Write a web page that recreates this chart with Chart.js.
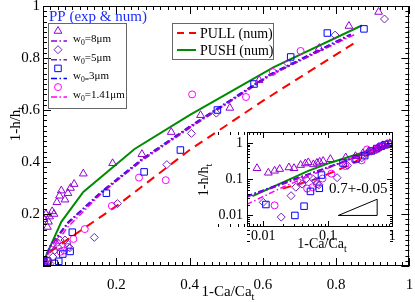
<!DOCTYPE html>
<html>
<head>
<meta charset="utf-8">
<script src="https://cdn.jsdelivr.net/npm/chart.js@4/dist/chart.umd.min.js"></script>
<style>
  html, body { margin: 0; padding: 0; background: #fff; }
  #wrap { position: relative; width: 415px; height: 302px; }
  #main { position: absolute; left: 0; top: 0; }
  #inset { position: absolute; left: 190px; top: 120px; }
</style>
</head>
<body>
<div id="wrap">
  <canvas id="main" width="415" height="302"></canvas>
  <canvas id="inset" width="215" height="140"></canvas>
</div>
<script>
// experimental points, [1-Ca/Ca_t, 1-h/h_t]
const triW8 = [[0.003,0.18],[0.008,0.2],[0.012,0.15],[0.015,0.17],[0.018,0.19],[0.025,0.21],[0.03,0.2],
  [0.038,0.245],[0.045,0.27],[0.05,0.29],[0.06,0.255],[0.068,0.28],[0.075,0.3],[0.085,0.315],[0.11,0.355],
  [0.19,0.395],[0.27,0.43],[0.35,0.515],[0.43,0.58],[0.51,0.608],[0.59,0.715],[0.754,0.838],[0.835,0.923],[0.916,0.977]];
const diaW5 = [[0.01,0.023],[0.019,0.009],[0.027,0.035],[0.032,0.06],[0.04,0.073],[0.046,0.1],[0.06,0.1],
  [0.065,0.088],[0.073,0.07],[0.14,0.11],[0.203,0.24],[0.338,0.39],[0.405,0.51],[0.473,0.588],[0.668,0.78],
  [0.797,0.888],[0.932,0.95]];
const sqW3 = [[0.002,0.015],[0.011,0.02],[0.031,0.01],[0.043,0.018],[0.054,0.046],[0.074,0.056],[0.08,0.13],
  [0.173,0.28],[0.276,0.362],[0.375,0.446],[0.476,0.6],[0.576,0.7],[0.676,0.804],[0.776,0.896],[0.876,0.912]];
const cirW141 = [[0.005,0.015],[0.015,0.019],[0.038,0.09],[0.048,0.055],[0.058,0.06],[0.068,0.073],[0.083,0.104],
  [0.114,0.142],[0.188,0.231],[0.262,0.34],[0.335,0.33],[0.407,0.66],[0.554,0.65],[0.627,0.746],[0.703,0.827]];

// numerical curves
const numW8 = [[0,0],[0.0055,0.033],[0.02,0.075],[0.068,0.165],[0.16,0.285],[0.27,0.41],[0.4,0.535],[0.62,0.735],[0.84,0.89]];
const numW5 = [[0,0],[0.0055,0.032],[0.02,0.072],[0.068,0.163],[0.16,0.282],[0.27,0.405],[0.4,0.53],[0.62,0.732],[0.84,0.887]];
const numW3 = [[0,0],[0.0055,0.034],[0.02,0.078],[0.068,0.168],[0.16,0.287],[0.27,0.412],[0.4,0.537],[0.62,0.738],[0.84,0.892]];
const numW141 = [[0,0],[0.0055,0.02],[0.02,0.06],[0.068,0.15],[0.16,0.28],[0.27,0.408],[0.4,0.533],[0.62,0.735],[0.85,0.89]];
const pull = [[0,0],[0.02,0.055],[0.065,0.1],[0.2,0.23],[0.4,0.446],[0.6,0.635],[0.85,0.858]];
const push = [[0,0],[0.0068,0.034],[0.05,0.17],[0.11,0.285],[0.25,0.45],[0.4,0.58],[0.63,0.765],[0.87,0.925]];

// slope mark in the inset
const slopeTri = [[0.146,0.01],[0.585,0.01],[0.585,0.028],[0.146,0.01]];
const slopeText = '0.7+-0.05';

const mainTicks = [0, 0.2, 0.4, 0.6, 0.8, 1];
const mainTickLabels = ['', '0.2', '0.4', '0.6', '0.8', '1'];
const insetTicks = [0.01, 0.1, 1];
const insetTickLabels = ['0.01', '0.1', '1'];

const VIOLET = '#9400d3', INDIGO = '#7221bc', BLUE = '#0000ff', MAGENTA = '#ff00ff';
const RED = '#ff0000', GREEN = '#008b00';
const SERIF = "'Liberation Serif', 'DejaVu Serif', serif";
const DASHDOT = [6, 2.5, 1.5, 2.5];

Chart.defaults.font.family = SERIF;
Chart.defaults.color = '#000';

const toXY = arr => arr.map(([x, y]) => ({ x, y }));

function pts(arr, style, r, color) {
  return { data: toXY(arr), pointStyle: style, pointRadius: r, pointBorderWidth: 1,
    pointBorderColor: color, pointBackgroundColor: 'rgba(0,0,0,0)', showLine: false };
}
function line(arr, color, width, dash) {
  return { data: toXY(arr), showLine: true, borderColor: color, borderWidth: width,
    borderDash: dash, pointRadius: 0, tension: 0, fill: false };
}

function buildSets(logScale) {
  const f = logScale ? a => a.filter(([x, y]) => x > 0 && y > 0) : a => a;
  return [
    pts(f(triW8), 'triangle', 4.5, VIOLET),
    pts(f(diaW5), 'rectRot', 4, INDIGO),
    pts(f(sqW3), 'rect', 4.6, BLUE),
    pts(f(cirW141), 'circle', 3.5, MAGENTA),
    line(f(numW8), VIOLET, 1.5, DASHDOT),
    line(f(numW5), INDIGO, 1.5, DASHDOT),
    line(f(numW3), BLUE, 1.5, DASHDOT),
    line(f(numW141), MAGENTA, 1.5, DASHDOT),
    line(f(pull), RED, 2, [9, 6]),
    line(f(push), GREEN, 2, [])
  ];
}

// text with subscripts: parts = [[text, isSub], ...]
function drawParts(ctx, parts, x, y, size, color, align) {
  const font = s => (s ? size * 0.7 : size) + 'px ' + SERIF;
  ctx.fillStyle = color;
  ctx.textBaseline = 'alphabetic';
  ctx.textAlign = 'left';
  let w = 0;
  parts.forEach(([t, s]) => { ctx.font = font(s); w += ctx.measureText(t).width; });
  let cx = align === 'center' ? x - w / 2 : x;
  parts.forEach(([t, s]) => {
    ctx.font = font(s);
    ctx.fillText(t, cx, s ? y + size * 0.28 : y);
    cx += ctx.measureText(t).width;
  });
}
function drawRotated(ctx, parts, x, y, size) {
  ctx.save();
  ctx.translate(x, y);
  ctx.rotate(-Math.PI / 2);
  drawParts(ctx, parts, 0, 0, size, '#000', 'center');
  ctx.restore();
}

// box with inward ticks on all four sides
function framePlugin(xMaj, xMin, yMaj, yMin, lenMaj, lenMin) {
  return {
    id: 'frame',
    afterDraw(chart) {
      const { ctx, chartArea: a, scales } = chart;
      ctx.save();
      ctx.strokeStyle = '#000';
      ctx.lineWidth = 1;
      ctx.strokeRect(Math.round(a.left) + 0.5, Math.round(a.top) + 0.5,
        Math.round(a.right - a.left) - 1, Math.round(a.bottom - a.top) - 1);
      ctx.beginPath();
      const xt = (vals, len) => vals.forEach(v => {
        const p = Math.round(scales.x.getPixelForValue(v)) + 0.5;
        ctx.moveTo(p, a.bottom); ctx.lineTo(p, a.bottom - len);
        ctx.moveTo(p, a.top); ctx.lineTo(p, a.top + len);
      });
      const yt = (vals, len) => vals.forEach(v => {
        const p = Math.round(scales.y.getPixelForValue(v)) + 0.5;
        ctx.moveTo(a.left, p); ctx.lineTo(a.left + len, p);
        ctx.moveTo(a.right, p); ctx.lineTo(a.right - len, p);
      });
      xt(xMaj, lenMaj); xt(xMin, lenMin);
      yt(yMaj, lenMaj); yt(yMin, lenMin);
      ctx.stroke();
      ctx.restore();
    }
  };
}

const mainMinor = [];
for (let i = 1; i < 50; i++) if (i % 10) mainMinor.push(i / 50);

const legendRows = [
  { style: 'triangle', r: 4.5, color: VIOLET, text: [['w'], ['0', true], ['=8μm']] },
  { style: 'rectRot', r: 4, color: INDIGO, text: [['w'], ['0', true], ['=5μm']] },
  { style: 'rect', r: 4.6, color: BLUE, text: [['w'], ['0=', true], ['3μm']] },
  { style: 'circle', r: 3.5, color: MAGENTA, text: [['w'], ['0', true], ['=1.41μm']] }
];

const mainDecor = {
  id: 'mainDecor',
  afterDraw(chart) {
    const ctx = chart.ctx;
    ctx.save();
    drawRotated(ctx, [['1-h/h'], ['t', true]], 20, 124, 15);
    drawParts(ctx, [['1-Ca/Ca'], ['t', true]], 228, 296, 15, '#000', 'center');
    drawParts(ctx, [['PP (exp & num)']], 49, 21, 15, '#1a2cff', 'left');

    // experiment legend
    ctx.strokeStyle = '#666'; ctx.lineWidth = 1;
    ctx.strokeRect(48.5, 23.5, 78, 85);
    legendRows.forEach((row, i) => {
      const y0 = 31 + i * 18.7;
      ctx.strokeStyle = row.color; ctx.fillStyle = 'rgba(0,0,0,0)'; ctx.lineWidth = 1;
      Chart.helpers.drawPoint(ctx, { pointStyle: row.style, radius: row.r, rotation: 0, borderWidth: 1 }, 58, y0);
      ctx.beginPath();
      ctx.setLineDash(DASHDOT); ctx.lineWidth = 1.5;
      ctx.moveTo(51, y0 + 10); ctx.lineTo(67, y0 + 10);
      ctx.stroke();
      ctx.setLineDash([]);
      drawParts(ctx, row.text, 73, y0 + 11, 11, '#000', 'left');
    });

    // numerical legend
    ctx.strokeStyle = '#666'; ctx.lineWidth = 1;
    ctx.strokeRect(172.5, 23.5, 101, 36);
    ctx.lineWidth = 2;
    ctx.strokeStyle = RED; ctx.setLineDash([7, 5]);
    ctx.beginPath(); ctx.moveTo(177, 33); ctx.lineTo(196, 33); ctx.stroke();
    ctx.strokeStyle = GREEN; ctx.setLineDash([]);
    ctx.beginPath(); ctx.moveTo(177, 50); ctx.lineTo(196, 50); ctx.stroke();
    drawParts(ctx, [['PULL (num)']], 200, 38, 14, '#000', 'left');
    drawParts(ctx, [['PUSH (num)']], 200, 55, 14, '#000', 'left');
    ctx.restore();
  }
};

const noGrid = { display: false, drawTicks: false };

new Chart(document.getElementById('main'), {
  type: 'scatter',
  data: { datasets: buildSets(false) },
  options: {
    responsive: false, animation: false, devicePixelRatio: 1,
    layout: { padding: { top: 6, right: 2, left: 0, bottom: 0 } },
    plugins: { legend: { display: false }, tooltip: { enabled: false } },
    scales: {
      x: {
        type: 'linear', min: 0, max: 1,
        afterFit: s => { s.height = 36; s.paddingLeft = 0; s.paddingRight = 0; },
        afterBuildTicks: s => { s.ticks = mainTicks.map(v => ({ value: v })); },
        ticks: { callback: (v, i) => mainTickLabels[i], padding: 10, maxRotation: 0, autoSkip: false, font: { size: 15 }, color: '#000' },
        grid: noGrid, border: { display: false }
      },
      y: {
        type: 'linear', min: 0, max: 1,
        afterFit: s => { s.width = 43; s.paddingTop = 0; s.paddingBottom = 0; },
        afterBuildTicks: s => { s.ticks = mainTicks.map(v => ({ value: v })); },
        ticks: { callback: (v, i) => mainTickLabels[i], padding: 3, autoSkip: false, font: { size: 15 }, color: '#000' },
        grid: noGrid, border: { display: false }
      }
    }
  },
  plugins: [framePlugin(mainTicks, mainMinor, mainTicks, mainMinor, 8, 4), mainDecor]
});

// inset (log-log)
const insetMinorX = [], insetMinorY = [];
[0.001, 0.01, 0.1].forEach(d => { for (let k = 2; k <= 9; k++) { insetMinorX.push(k * d); insetMinorY.push(k * d); } });
insetMinorY.push(2);

const insetDecor = {
  id: 'insetDecor',
  beforeDraw(chart) {
    const { ctx, chartArea: a } = chart;
    ctx.save(); ctx.fillStyle = '#fff';
    ctx.fillRect(a.left, a.top, a.right - a.left, a.bottom - a.top);
    ctx.restore();
  },
  afterDraw(chart) {
    const { ctx, scales } = chart;
    ctx.save();
    drawRotated(ctx, [['1-h/h'], ['t', true]], 18, 60, 14);
    drawParts(ctx, [['1-Ca/Ca'], ['t', true]], 132, 128, 14, '#000', 'center');
    const tx = scales.x.getPixelForValue(0.297), ty = scales.y.getPixelForValue(0.057);
    drawParts(ctx, [[slopeText]], tx, ty + 5, 15, '#000', 'center');
    ctx.restore();
  }
};

const insetSets = buildSets(true);
insetSets.push(line(slopeTri, '#000', 1, []));

new Chart(document.getElementById('inset'), {
  type: 'scatter',
  data: { datasets: insetSets },
  options: {
    responsive: false, animation: false, devicePixelRatio: 1,
    layout: { padding: { top: 12, right: 12, left: 0, bottom: 0 } },
    plugins: { legend: { display: false }, tooltip: { enabled: false } },
    scales: {
      x: {
        type: 'logarithmic', min: 0.0056, max: 1.03,
        afterFit: s => { s.height = 33; s.paddingLeft = 0; s.paddingRight = 0; },
        afterBuildTicks: s => { s.ticks = insetTicks.map(v => ({ value: v })); },
        ticks: { callback: (v, i) => insetTickLabels[i], padding: 1, maxRotation: 0, autoSkip: false, font: { size: 14 }, color: '#000' },
        grid: noGrid, border: { display: false }
      },
      y: {
        type: 'logarithmic', min: 0.0048, max: 2,
        afterFit: s => { s.width = 57; s.paddingTop = 0; s.paddingBottom = 0; },
        afterBuildTicks: s => { s.ticks = insetTicks.map(v => ({ value: v })); },
        ticks: { callback: (v, i) => insetTickLabels[i], padding: 4, autoSkip: false, font: { size: 14 }, color: '#000' },
        grid: noGrid, border: { display: false }
      }
    }
  },
  plugins: [framePlugin(insetTicks, insetMinorX, insetTicks, insetMinorY, 6, 3), insetDecor]
});
</script>
</body>
</html>
